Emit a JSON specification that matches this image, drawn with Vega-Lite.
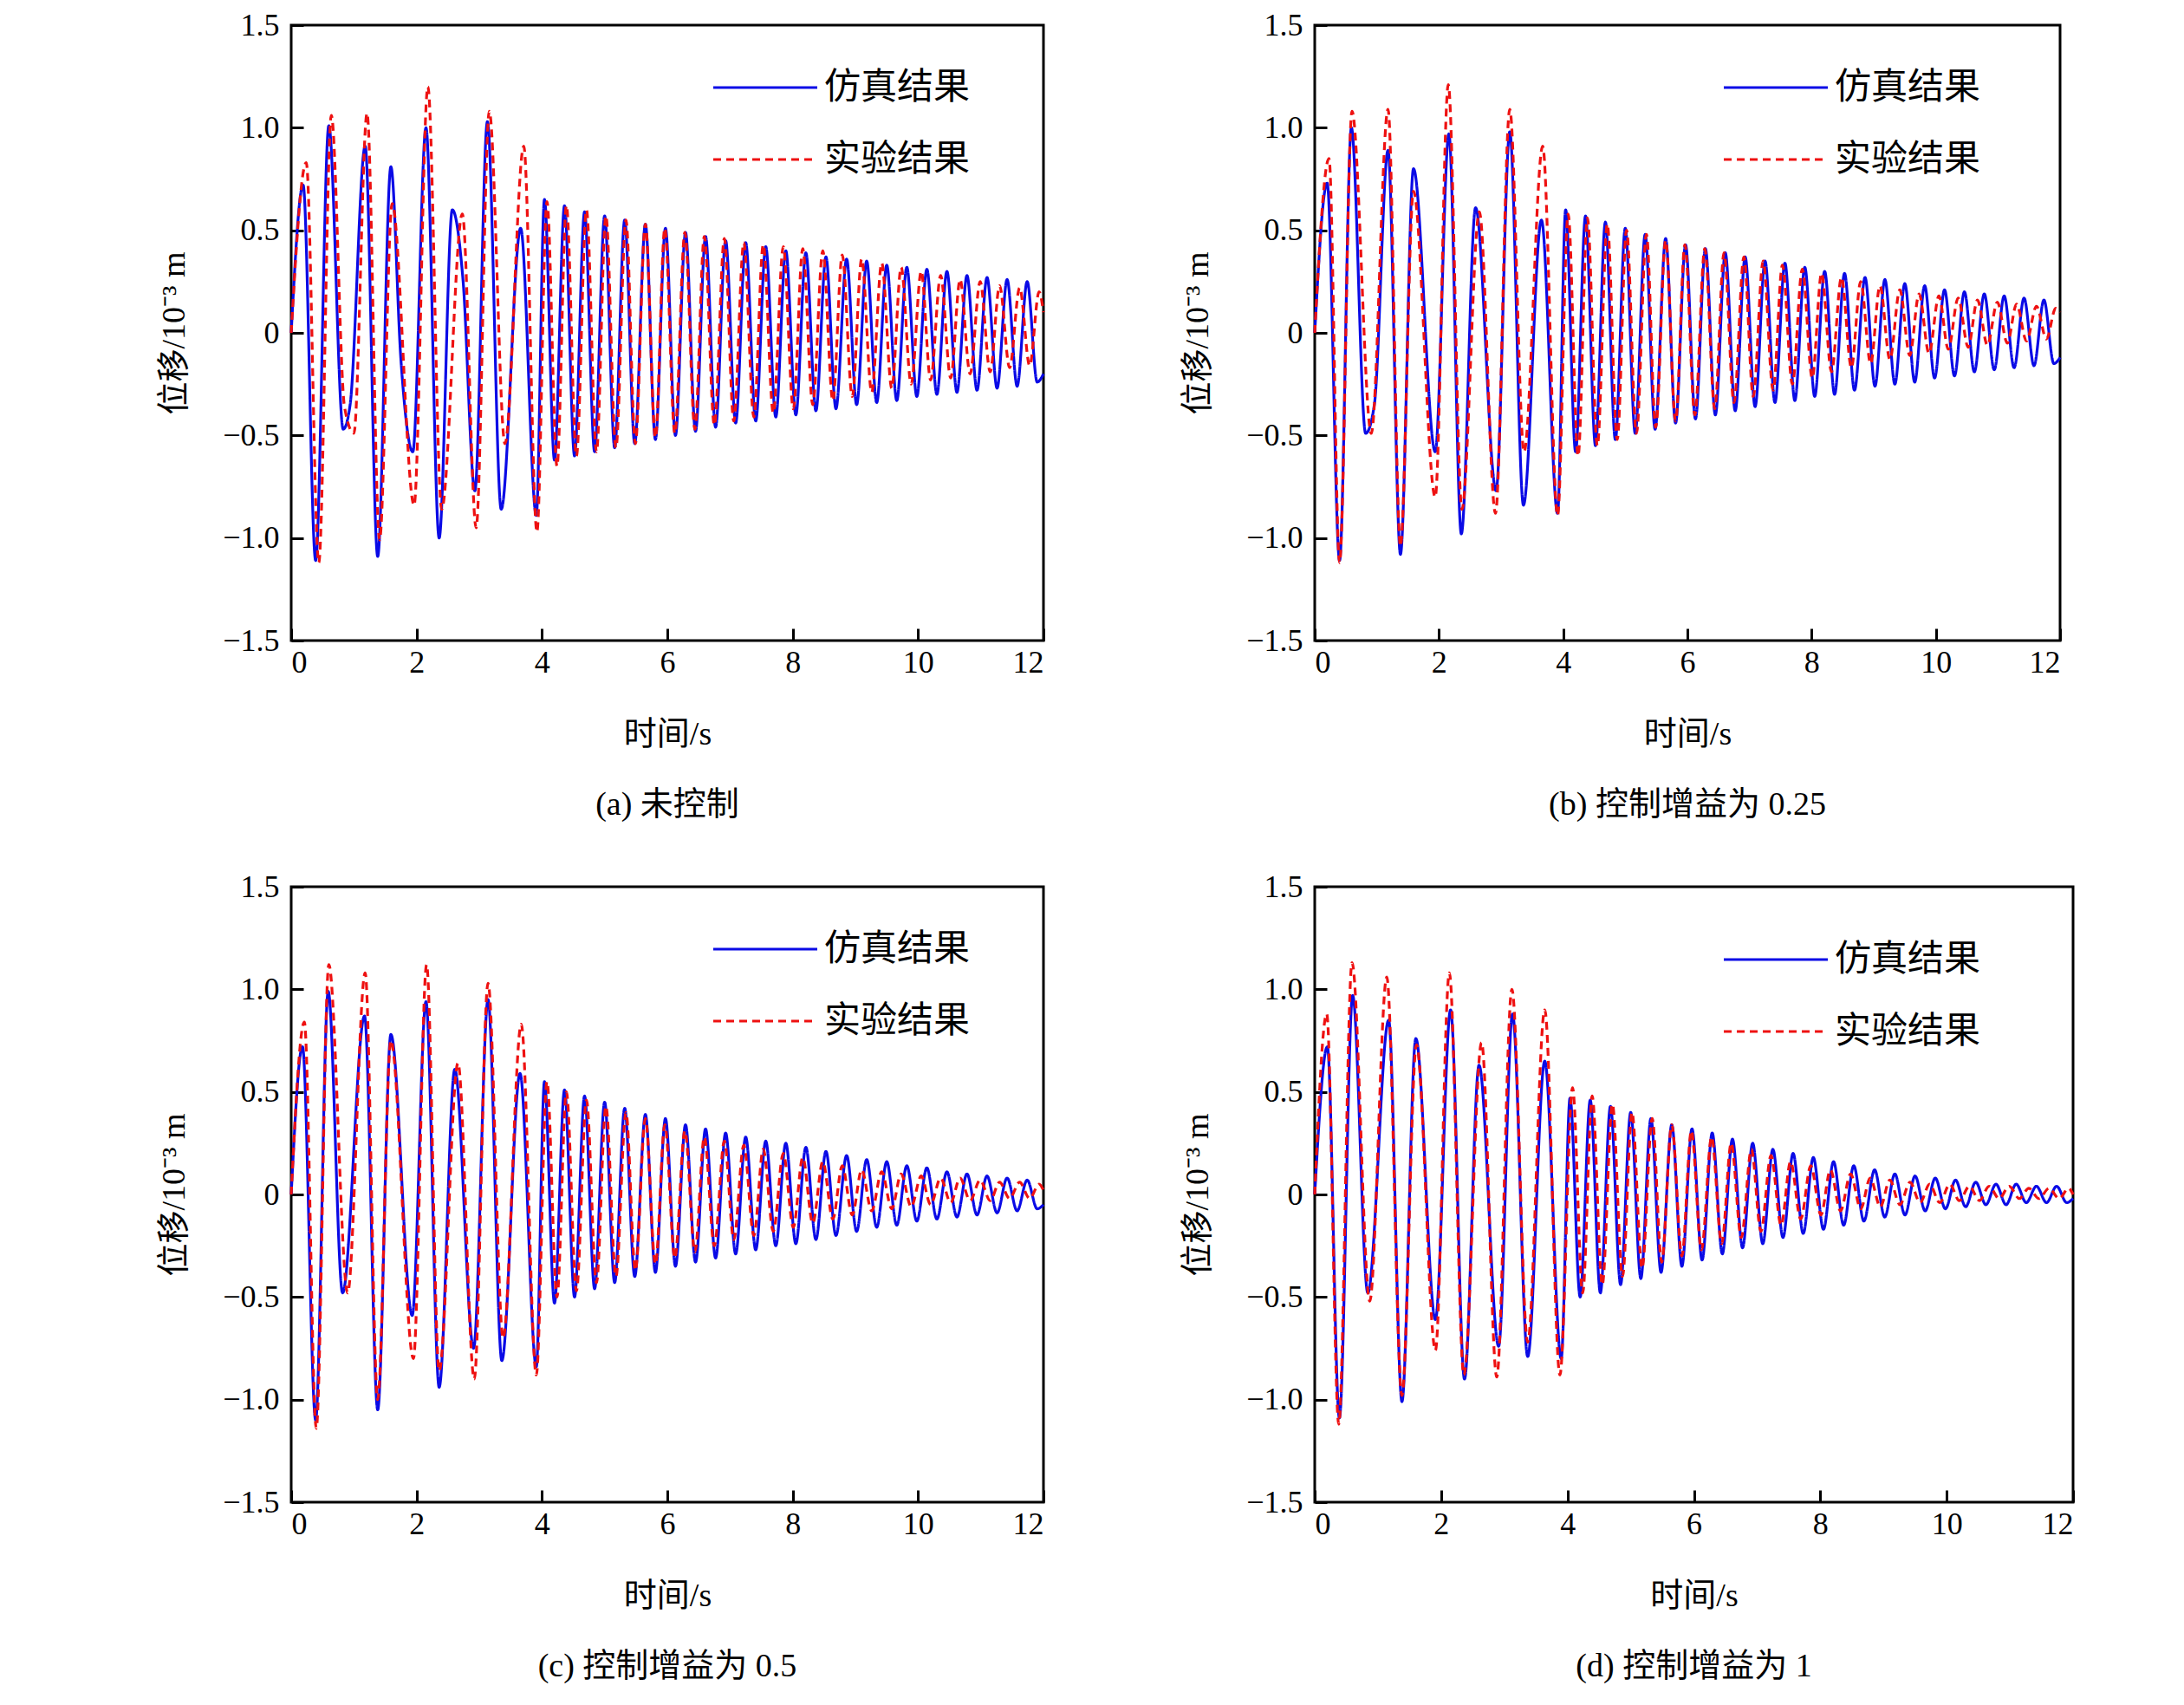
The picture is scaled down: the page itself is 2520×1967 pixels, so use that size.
{
  "$schema": "https://vega.github.io/schema/vega-lite/v6.json",
  "background": "white",
  "padding": {"left": 181, "top": 9, "right": 10, "bottom": 10},
  "data": {
    "values": [
      {"p": "a", "s": "仿真结果",
       "t": [0,0.19,0.39,0.60,0.83,0.94,1.18,1.38,1.59,1.75,1.94,2.15,2.36,2.57,2.74,2.93,3.13,3.35,3.66,3.91,4.04,4.20,4.36,4.52,4.68,4.84,5.00,5.16,5.32,5.48,5.65,5.81,5.97,6.13,6.29,6.45,6.61,6.77,6.93,7.09,7.25,7.41,7.57,7.73,7.89,8.05,8.21,8.37,8.53,8.69,8.86,9.02,9.18,9.34,9.50,9.66,9.82,9.98,10.14,10.30,10.46,10.62,10.78,10.94,11.10,11.26,11.42,11.58,11.74,11.90,12.0],
       "y": [0,0.72,-1.11,1.01,-0.47,-0.35,0.91,-1.09,0.81,-0.13,-0.58,1.0,-1.0,0.6,0.26,-0.77,1.03,-0.86,0.51,-0.89,0.65,-0.62,0.62,-0.60,0.59,-0.58,0.57,-0.56,0.55,-0.54,0.53,-0.52,0.51,-0.50,0.49,-0.48,0.47,-0.46,0.45,-0.44,0.44,-0.43,0.42,-0.41,0.40,-0.40,0.39,-0.38,0.37,-0.37,0.36,-0.35,0.35,-0.34,0.33,-0.33,0.32,-0.31,0.31,-0.30,0.30,-0.29,0.28,-0.28,0.27,-0.27,0.26,-0.26,0.25,-0.24,-0.2]},
      {"p": "a", "s": "实验结果",
       "t": [0,0.24,0.44,0.64,0.85,1.0,1.21,1.41,1.61,1.96,2.18,2.40,2.73,2.95,3.16,3.41,3.71,3.92,4.08,4.24,4.39,4.55,4.71,4.87,5.02,5.18,5.34,5.49,5.65,5.81,5.96,6.12,6.28,6.44,6.59,6.75,6.91,7.06,7.22,7.38,7.53,7.69,7.85,8.01,8.16,8.32,8.48,8.64,8.79,8.95,9.10,9.26,9.42,9.58,9.73,9.89,10.05,10.20,10.36,10.52,10.67,10.83,10.99,11.15,11.30,11.46,11.62,11.78,11.93,12.0],
       "y": [0,0.83,-1.12,1.06,-0.36,-0.49,1.07,-1.01,0.63,-0.84,1.2,-0.86,0.58,-0.95,1.08,-0.54,0.91,-0.97,0.64,-0.65,0.62,-0.6,0.6,-0.58,0.57,-0.56,0.55,-0.54,0.53,-0.51,0.51,-0.49,0.49,-0.47,0.47,-0.45,0.46,-0.43,0.44,-0.41,0.43,-0.39,0.42,-0.37,0.41,-0.35,0.4,-0.33,0.38,-0.31,0.36,-0.29,0.34,-0.27,0.32,-0.25,0.3,-0.23,0.28,-0.22,0.26,-0.2,0.25,-0.19,0.23,-0.17,0.22,-0.16,0.2,0.1]},
      {"p": "b", "s": "仿真结果",
       "t": [0,0.20,0.40,0.59,0.82,0.96,1.18,1.38,1.59,1.94,2.16,2.36,2.59,2.92,3.14,3.36,3.65,3.91,4.04,4.20,4.36,4.52,4.68,4.84,5.00,5.16,5.32,5.48,5.65,5.81,5.97,6.13,6.29,6.45,6.61,6.77,6.93,7.09,7.25,7.41,7.57,7.73,7.89,8.05,8.21,8.37,8.53,8.69,8.86,9.02,9.18,9.34,9.50,9.66,9.82,9.98,10.14,10.30,10.46,10.62,10.78,10.94,11.10,11.26,11.42,11.58,11.74,11.90,12.0],
       "y": [0,0.73,-1.11,1.0,-0.49,-0.35,0.89,-1.08,0.80,-0.58,0.97,-0.98,0.61,-0.77,0.98,-0.84,0.55,-0.88,0.60,-0.58,0.57,-0.55,0.54,-0.52,0.51,-0.49,0.48,-0.47,0.46,-0.44,0.43,-0.42,0.41,-0.40,0.39,-0.38,0.37,-0.36,0.35,-0.34,0.34,-0.33,0.32,-0.31,0.30,-0.30,0.29,-0.28,0.27,-0.26,0.26,-0.25,0.24,-0.24,0.23,-0.22,0.21,-0.21,0.20,-0.19,0.19,-0.18,0.18,-0.17,0.17,-0.16,0.16,-0.15,-0.12]},
      {"p": "b", "s": "实验结果",
       "t": [0,0.23,0.40,0.60,0.91,1.18,1.38,1.59,1.94,2.15,2.37,2.65,2.91,3.14,3.37,3.67,3.91,4.08,4.24,4.39,4.55,4.71,4.87,5.02,5.18,5.34,5.49,5.65,5.81,5.96,6.12,6.28,6.44,6.59,6.75,6.91,7.06,7.22,7.38,7.53,7.69,7.85,8.01,8.16,8.32,8.48,8.64,8.79,8.95,9.10,9.26,9.42,9.58,9.73,9.89,10.05,10.20,10.36,10.52,10.67,10.83,10.99,11.15,11.30,11.46,11.62,11.78,11.93,12.0],
       "y": [0,0.85,-1.12,1.08,-0.49,1.09,-1.04,0.69,-0.8,1.21,-0.86,0.59,-0.88,1.09,-0.58,0.91,-0.89,0.58,-0.6,0.56,-0.55,0.53,-0.52,0.50,-0.49,0.48,-0.46,0.45,-0.43,0.43,-0.40,0.41,-0.37,0.39,-0.34,0.37,-0.31,0.35,-0.28,0.33,-0.25,0.31,-0.22,0.29,-0.19,0.27,-0.17,0.25,-0.15,0.23,-0.13,0.21,-0.11,0.19,-0.1,0.18,-0.08,0.17,-0.07,0.16,-0.06,0.15,-0.05,0.14,-0.04,0.13,-0.03,0.12,0.1]},
      {"p": "c", "s": "仿真结果",
       "t": [0,0.18,0.39,0.59,0.82,1.17,1.38,1.59,1.93,2.15,2.36,2.61,2.91,3.14,3.36,3.65,3.91,4.04,4.20,4.36,4.52,4.68,4.84,5.00,5.16,5.32,5.48,5.65,5.81,5.97,6.13,6.29,6.45,6.61,6.77,6.93,7.09,7.25,7.41,7.57,7.73,7.89,8.05,8.21,8.37,8.53,8.69,8.86,9.02,9.18,9.34,9.50,9.66,9.82,9.98,10.14,10.30,10.46,10.62,10.78,10.94,11.10,11.26,11.42,11.58,11.74,11.90,12.0],
       "y": [0,0.72,-1.10,0.99,-0.48,0.87,-1.05,0.78,-0.59,0.94,-0.94,0.61,-0.75,0.95,-0.81,0.59,-0.84,0.55,-0.53,0.51,-0.50,0.48,-0.46,0.45,-0.43,0.42,-0.40,0.39,-0.38,0.37,-0.35,0.34,-0.33,0.32,-0.31,0.30,-0.29,0.28,-0.27,0.26,-0.25,0.25,-0.24,0.23,-0.22,0.21,-0.20,0.19,-0.18,0.17,-0.16,0.16,-0.15,0.14,-0.13,0.13,-0.12,0.11,-0.11,0.10,-0.10,0.09,-0.09,0.08,-0.08,0.07,-0.07,-0.05]},
      {"p": "c", "s": "实验结果",
       "t": [0,0.21,0.40,0.60,0.90,1.18,1.38,1.59,1.95,2.16,2.36,2.66,2.92,3.14,3.38,3.67,3.91,4.08,4.24,4.39,4.55,4.71,4.87,5.02,5.18,5.34,5.49,5.65,5.81,5.96,6.12,6.28,6.44,6.59,6.75,6.91,7.06,7.22,7.38,7.53,7.69,7.85,8.01,8.16,8.32,8.48,8.64,8.79,8.95,9.10,9.26,9.42,9.58,9.73,9.89,10.05,10.20,10.36,10.52,10.67,10.83,10.99,11.15,11.30,11.46,11.62,11.78,11.93,12.0],
       "y": [0,0.84,-1.14,1.12,-0.48,1.08,-1.0,0.75,-0.8,1.12,-0.86,0.64,-0.9,1.03,-0.70,0.83,-0.88,0.55,-0.5,0.5,-0.47,0.46,-0.43,0.43,-0.40,0.40,-0.37,0.37,-0.34,0.34,-0.31,0.31,-0.28,0.28,-0.25,0.26,-0.22,0.24,-0.2,0.22,-0.18,0.2,-0.16,0.18,-0.14,0.16,-0.12,0.14,-0.1,0.12,-0.08,0.11,-0.07,0.1,-0.06,0.09,-0.05,0.08,-0.04,0.08,-0.03,0.07,-0.03,0.06,-0.02,0.06,-0.02,0.05,0.02]},
      {"p": "d", "s": "仿真结果",
       "t": [0,0.20,0.39,0.60,0.84,1.17,1.38,1.60,1.91,2.15,2.37,2.60,2.91,3.13,3.37,3.64,3.90,4.04,4.20,4.36,4.52,4.68,4.84,5.00,5.16,5.32,5.48,5.65,5.81,5.97,6.13,6.29,6.45,6.61,6.77,6.93,7.09,7.25,7.41,7.57,7.73,7.89,8.05,8.21,8.37,8.53,8.69,8.86,9.02,9.18,9.34,9.50,9.66,9.82,9.98,10.14,10.30,10.46,10.62,10.78,10.94,11.10,11.26,11.42,11.58,11.74,11.90,12.0],
       "y": [0,0.72,-1.09,0.97,-0.48,0.85,-1.01,0.76,-0.61,0.9,-0.9,0.63,-0.74,0.88,-0.79,0.65,-0.8,0.47,-0.5,0.46,-0.48,0.43,-0.44,0.40,-0.41,0.37,-0.38,0.34,-0.35,0.32,-0.32,0.30,-0.29,0.27,-0.26,0.25,-0.24,0.22,-0.21,0.2,-0.19,0.18,-0.17,0.16,-0.15,0.14,-0.13,0.12,-0.11,0.1,-0.1,0.09,-0.08,0.08,-0.07,0.07,-0.06,0.06,-0.05,0.05,-0.05,0.05,-0.04,0.04,-0.04,0.04,-0.04,-0.02]},
      {"p": "d", "s": "实验结果",
       "t": [0,0.19,0.38,0.59,0.87,1.14,1.38,1.61,1.91,2.13,2.36,2.64,2.88,3.12,3.37,3.64,3.88,4.08,4.24,4.39,4.55,4.71,4.87,5.02,5.18,5.34,5.49,5.65,5.81,5.96,6.12,6.28,6.44,6.59,6.75,6.91,7.06,7.22,7.38,7.53,7.69,7.85,8.01,8.16,8.32,8.48,8.64,8.79,8.95,9.10,9.26,9.42,9.58,9.73,9.89,10.05,10.20,10.36,10.52,10.67,10.83,10.99,11.15,11.30,11.46,11.62,11.78,11.93,12.0],
       "y": [0,0.88,-1.12,1.13,-0.52,1.06,-0.98,0.73,-0.76,1.08,-0.88,0.74,-0.89,1.0,-0.72,0.9,-0.88,0.52,-0.48,0.48,-0.44,0.44,-0.40,0.40,-0.36,0.37,-0.33,0.34,-0.30,0.31,-0.27,0.28,-0.24,0.25,-0.21,0.22,-0.18,0.19,-0.15,0.16,-0.12,0.14,-0.1,0.12,-0.08,0.1,-0.07,0.08,-0.06,0.07,-0.05,0.06,-0.04,0.05,-0.04,0.05,-0.03,0.04,-0.03,0.04,-0.02,0.04,-0.02,0.03,-0.02,0.03,-0.02,0.03,0]}
    ]
  },
  "transform": [{"flatten": ["t", "y"]}],
  "columns": 2,
  "spacing": {"row": 53, "column": 150},
  "resolve": {
    "scale": {"color": "independent", "strokeDash": "independent"},
    "legend": {"color": "independent", "strokeDash": "independent"}
  },
  "concat": [
    {
      "width": 868, "height": 710,
      "title": {"text": "(a) 未控制", "orient": "bottom"},
      "transform": [{"filter": "datum.p === 'a'"}],
      "mark": {"type": "line", "interpolate": "monotone", "strokeWidth": 3.2},
      "encoding": {
        "x": {"field": "t", "type": "quantitative", "title": "时间/s", "scale": {"domain": [0, 12]}, "axis": {"values": [0, 2, 4, 6, 8, 10, 12]}},
        "y": {"field": "y", "type": "quantitative", "title": "位移/10⁻³ m", "scale": {"domain": [-1.5, 1.5]}, "axis": {"values": [-1.5, -1, -0.5, 0, 0.5, 1, 1.5], "labelExpr": "datum.value == 0 ? '0' : format(datum.value, '.1f')"}},
        "color": {"field": "s", "type": "nominal", "title": null, "scale": {"domain": ["仿真结果", "实验结果"], "range": ["#0a0ae6", "#ee1111"]}, "legend": {"orient": "none", "legendX": 485, "legendY": 10}},
        "strokeDash": {"field": "s", "type": "nominal", "title": null, "scale": {"domain": ["仿真结果", "实验结果"], "range": [[1, 0], [9, 6]]}, "legend": {"orient": "none", "legendX": 485, "legendY": 10}}
      }
    },
    {
      "width": 860, "height": 710,
      "title": {"text": "(b) 控制增益为 0.25", "orient": "bottom"},
      "transform": [{"filter": "datum.p === 'b'"}],
      "mark": {"type": "line", "interpolate": "monotone", "strokeWidth": 3.2},
      "encoding": {
        "x": {"field": "t", "type": "quantitative", "title": "时间/s", "scale": {"domain": [0, 12]}, "axis": {"values": [0, 2, 4, 6, 8, 10, 12]}},
        "y": {"field": "y", "type": "quantitative", "title": "位移/10⁻³ m", "scale": {"domain": [-1.5, 1.5]}, "axis": {"values": [-1.5, -1, -0.5, 0, 0.5, 1, 1.5], "labelExpr": "datum.value == 0 ? '0' : format(datum.value, '.1f')"}},
        "color": {"field": "s", "type": "nominal", "title": null, "scale": {"domain": ["仿真结果", "实验结果"], "range": ["#0a0ae6", "#ee1111"]}, "legend": {"orient": "none", "legendX": 470, "legendY": 10}},
        "strokeDash": {"field": "s", "type": "nominal", "title": null, "scale": {"domain": ["仿真结果", "实验结果"], "range": [[1, 0], [9, 6]]}, "legend": {"orient": "none", "legendX": 470, "legendY": 10}}
      }
    },
    {
      "width": 868, "height": 710,
      "title": {"text": "(c) 控制增益为 0.5", "orient": "bottom"},
      "transform": [{"filter": "datum.p === 'c'"}],
      "mark": {"type": "line", "interpolate": "monotone", "strokeWidth": 3.2},
      "encoding": {
        "x": {"field": "t", "type": "quantitative", "title": "时间/s", "scale": {"domain": [0, 12]}, "axis": {"values": [0, 2, 4, 6, 8, 10, 12]}},
        "y": {"field": "y", "type": "quantitative", "title": "位移/10⁻³ m", "scale": {"domain": [-1.5, 1.5]}, "axis": {"values": [-1.5, -1, -0.5, 0, 0.5, 1, 1.5], "labelExpr": "datum.value == 0 ? '0' : format(datum.value, '.1f')"}},
        "color": {"field": "s", "type": "nominal", "title": null, "scale": {"domain": ["仿真结果", "实验结果"], "range": ["#0a0ae6", "#ee1111"]}, "legend": {"orient": "none", "legendX": 485, "legendY": 10}},
        "strokeDash": {"field": "s", "type": "nominal", "title": null, "scale": {"domain": ["仿真结果", "实验结果"], "range": [[1, 0], [9, 6]]}, "legend": {"orient": "none", "legendX": 485, "legendY": 10}}
      }
    },
    {
      "width": 875, "height": 710,
      "title": {"text": "(d) 控制增益为 1", "orient": "bottom"},
      "transform": [{"filter": "datum.p === 'd'"}],
      "mark": {"type": "line", "interpolate": "monotone", "strokeWidth": 3.2},
      "encoding": {
        "x": {"field": "t", "type": "quantitative", "title": "时间/s", "scale": {"domain": [0, 12]}, "axis": {"values": [0, 2, 4, 6, 8, 10, 12]}},
        "y": {"field": "y", "type": "quantitative", "title": "位移/10⁻³ m", "scale": {"domain": [-1.5, 1.5]}, "axis": {"values": [-1.5, -1, -0.5, 0, 0.5, 1, 1.5], "labelExpr": "datum.value == 0 ? '0' : format(datum.value, '.1f')"}},
        "color": {"field": "s", "type": "nominal", "title": null, "scale": {"domain": ["仿真结果", "实验结果"], "range": ["#0a0ae6", "#ee1111"]}, "legend": {"orient": "none", "legendX": 470, "legendY": 22}},
        "strokeDash": {"field": "s", "type": "nominal", "title": null, "scale": {"domain": ["仿真结果", "实验结果"], "range": [[1, 0], [9, 6]]}, "legend": {"orient": "none", "legendX": 470, "legendY": 22}}
      }
    }
  ],
  "config": {
    "font": "Liberation Serif, Noto Sans CJK SC",
    "view": {"stroke": "black", "strokeWidth": 3},
    "axis": {
      "domain": false, "grid": false,
      "tickColor": "black", "tickWidth": 3, "tickSize": -14,
      "labelFont": "Liberation Serif", "labelFontSize": 36, "labelColor": "black", "labelPadding": 28,
      "titleFont": "Liberation Serif, Noto Sans CJK SC", "titleFontSize": 38, "titleFontWeight": "normal", "titleColor": "black"
    },
    "axisX": {"titlePadding": 46, "labelPadding": 22},
    "axisY": {"titlePadding": 36},
    "legend": {
      "symbolType": "stroke", "symbolSize": 14400, "symbolStrokeWidth": 3.2,
      "labelFont": "Liberation Serif, Noto Sans CJK SC", "labelFontSize": 42, "labelColor": "black", "labelLimit": 400,
      "rowPadding": -20, "labelOffset": 6
    },
    "title": {"font": "Liberation Serif, Noto Sans CJK SC", "fontSize": 38, "fontWeight": "normal", "color": "black", "offset": 44}
  }
}
